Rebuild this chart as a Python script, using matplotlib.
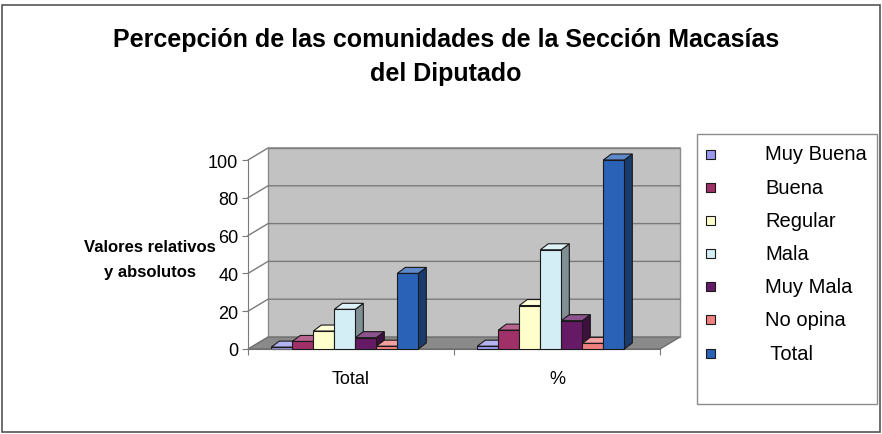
import matplotlib
matplotlib.use("Agg")
import matplotlib.pyplot as plt
from matplotlib.patches import Polygon, Rectangle
import matplotlib.colors as mcolors
import numpy as np

plt.rcParams['font.family'] = ['Liberation Sans', 'DejaVu Sans']

# data
categories = ['Total', '%']
series = ['Muy Buena', 'Buena', 'Regular', 'Mala', 'Muy Mala', 'No opina', 'Total']
values_total = [1, 4, 9.5, 21, 6, 1.5, 40]
values_pct = [1.5, 10, 23, 52.5, 15, 3, 100]
colors = ['#9999EE', '#A03068', '#FFFFCC', '#D4EEF6', '#661A66', '#F08080', '#2A62B8']
yticks = [0, 20, 40, 60, 80, 100]

W, H = 882, 435
fig = plt.figure(figsize=(W / 100, H / 100), dpi=100)

# axes = front plane of the 3D box
ax_l, ax_r, ax_b, ax_t = 248, 660, 350, 161
ax = fig.add_axes([ax_l / W, 1 - ax_b / H, (ax_r - ax_l) / W, (ax_b - ax_t) / H])
ax.set_xlim(0, 2)
ax.set_ylim(0, 100)
ax.patch.set_alpha(0)

px_x = (ax_r - ax_l) / 2.0      # px per x unit
px_y = (ax_b - ax_t) / 100.0    # px per y unit
wdx, wdy = 20 / px_x, 12 / px_y   # wall depth
bdx, bdy = 8 / px_x, 6 / px_y     # bar depth

# back wall
ax.add_patch(Polygon([(wdx, wdy), (2 + wdx, wdy), (2 + wdx, 100 + wdy), (wdx, 100 + wdy)],
                     closed=True, fc='#C2C2C2', ec='#8C8C8C', lw=1, clip_on=False, zorder=0))
# floor
ax.add_patch(Polygon([(0, 0), (2, 0), (2 + wdx, wdy), (wdx, wdy)],
                     closed=True, fc='#8A8A8A', ec='#6E6E6E', lw=1, clip_on=False, zorder=1))
# gridlines on wall and side
for v in yticks[1:]:
    ax.plot([0, wdx, 2 + wdx], [v, v + wdy, v + wdy], color='#7A7A7A', lw=1,
            clip_on=False, zorder=0.5)

def shade(c, f):
    r, g, b = mcolors.to_rgb(c)
    if f < 1:
        return (r * f, g * f, b * f)
    return (r + (1 - r) * (f - 1), g + (1 - g) * (f - 1), b + (1 - b) * (f - 1))

bar_w = 21 / px_x
shift = -0.03
groups = [values_total, values_pct]
z = 2
for gi, vals in enumerate(groups):
    n = len(vals)
    x0s = gi + 0.5 + shift + (np.arange(n) - n / 2) * bar_w
    for i, (x0, h) in enumerate(zip(x0s, vals)):
        c = colors[i]
        side = [(x0 + bar_w, 0), (x0 + bar_w + bdx, bdy), (x0 + bar_w + bdx, h + bdy), (x0 + bar_w, h)]
        top = [(x0, h), (x0 + bar_w, h), (x0 + bar_w + bdx, h + bdy), (x0 + bdx, h + bdy)]
        ax.add_patch(Polygon(side, closed=True, fc=shade(c, 0.6), ec='#1a1a1a', lw=0.8,
                             clip_on=False, zorder=z))
        ax.add_patch(Polygon(top, closed=True, fc=shade(c, 1.25), ec='#1a1a1a', lw=0.8,
                             clip_on=False, zorder=z))
        ax.bar(x0, h, width=bar_w, align='edge', color=c, edgecolor='#1a1a1a', lw=0.8,
               clip_on=False, zorder=z + 0.5)
        z += 1

# axes styling
for s in ['top', 'right']:
    ax.spines[s].set_visible(False)
ax.spines['left'].set_color('#7A7A7A')
ax.spines['bottom'].set_color('#6E6E6E')
ax.spines['left'].set_zorder(50)
ax.set_yticks(yticks)
ax.tick_params(axis='y', labelsize=13, length=4, color='#7A7A7A', pad=3)
ax.set_xticks([0, 1, 2])
ax.set_xticklabels([])
ax.set_xticks([0.5, 1.5], minor=True)
ax.set_xticklabels(categories, minor=True, fontsize=13)
ax.tick_params(axis='x', which='major', length=4, color='#7A7A7A')
ax.tick_params(axis='x', which='minor', length=0, pad=15)

# y label
fig.text(150 / W, 1 - 260 / H, 'Valores relativos\ny absolutos', ha='center', va='center',
         fontsize=12, fontweight='bold', linespacing=1.8)

# title
fig.text(446 / W, 1 - 57 / H, 'Percepción de las comunidades de la Sección Macasías\ndel Diputado',
         ha='center', va='center', fontsize=18, fontweight='bold', linespacing=1.5)

# legend drawn manually
lx0, lx1, ly0, ly1 = 697, 877, 135, 405
fig.add_artist(Rectangle((lx0 / W, 1 - ly1 / H), (lx1 - lx0) / W, (ly1 - ly0) / H,
                         transform=fig.transFigure, fc='white', ec='#8C8C8C', lw=1))
row_y = 155
for name, c in zip(series, colors):
    fig.add_artist(Rectangle((706 / W, 1 - (row_y + 4.5) / H), 9 / W, 9 / H,
                             transform=fig.transFigure, fc=c, ec='#1a1a1a', lw=0.8))
    lbl = ' ' + name if name == 'Total' else name
    fig.text(765 / W, 1 - row_y / H, lbl, ha='left', va='center', fontsize=14.5)
    row_y += 33.2

# outer frame
fig.add_artist(Rectangle((2 / W, 2 / H), (W - 4) / W, (H - 8) / H, transform=fig.transFigure,
                         fc='none', ec='#555555', lw=1.2))

fig.savefig('out.png', dpi=100)
